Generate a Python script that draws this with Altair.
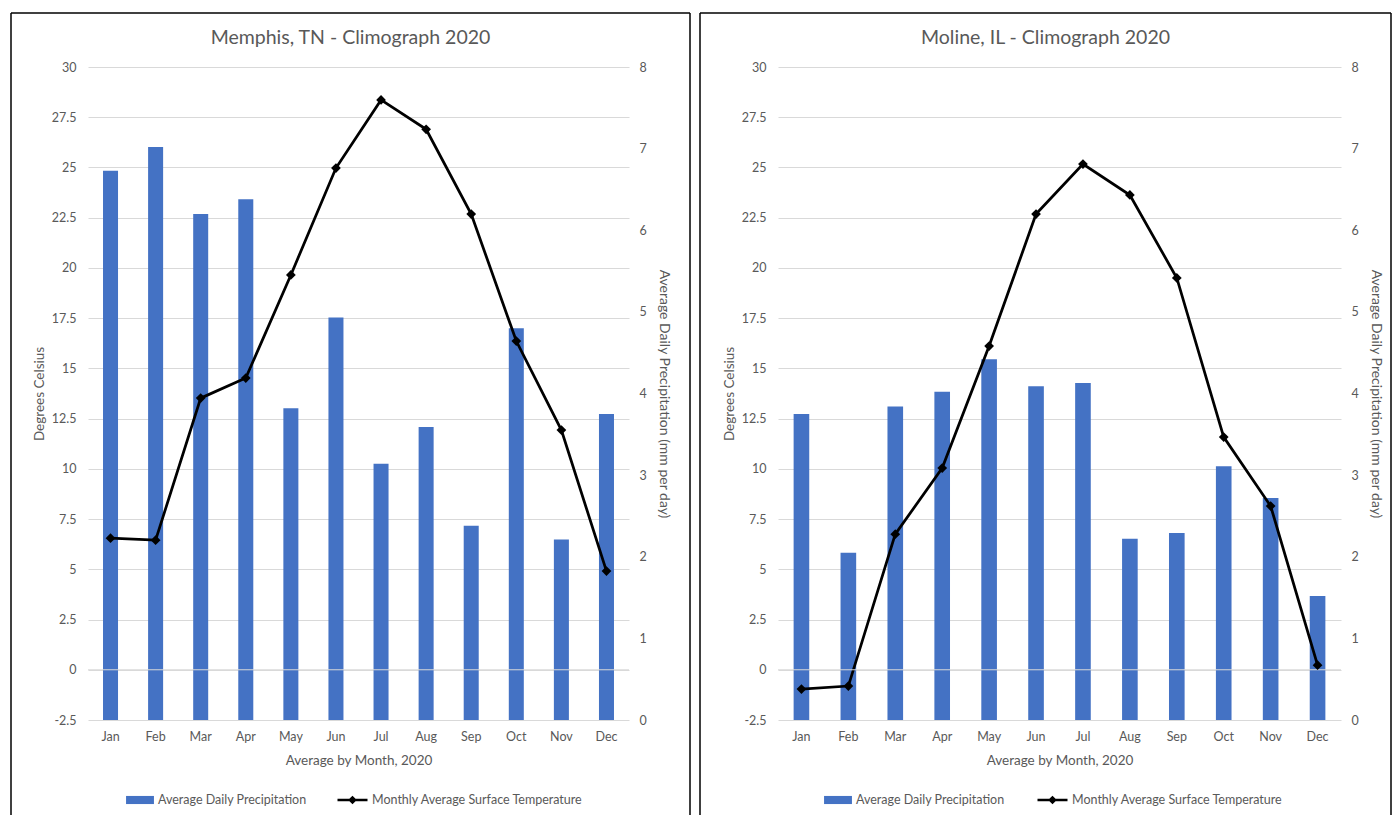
import altair as alt
import pandas as pd

months = ["Jan", "Feb", "Mar", "Apr", "May", "Jun", "Jul", "Aug", "Sep", "Oct", "Nov", "Dec"]

memphis_title = "Memphis, TN - Climograph 2020"
memphis_precip = [6.73, 7.02, 6.20, 6.38, 3.82, 4.93, 3.14, 3.59, 2.38, 4.80, 2.21, 3.75]
memphis_temp = [6.55, 6.45, 13.52, 14.52, 19.65, 24.97, 28.36, 26.9, 22.68, 16.36, 11.93, 4.91]

moline_title = "Moline, IL - Climograph 2020"
moline_precip = [3.75, 2.05, 3.84, 4.02, 4.42, 4.09, 4.13, 2.22, 2.29, 3.11, 2.72, 1.52]
moline_temp = [-0.96, -0.81, 6.75, 10.04, 16.11, 22.68, 25.17, 23.63, 19.5, 11.58, 8.15, 0.23]

temp_ticks = [-2.5, 0, 2.5, 5, 7.5, 10, 12.5, 15, 17.5, 20, 22.5, 25, 27.5, 30]
precip_ticks = [0, 1, 2, 3, 4, 5, 6, 7, 8]

precip_label = "Average Daily Precipitation"
temp_label = "Monthly Average Surface Temperature"

FONT = "Lato"
GRAY = "#595959"
GRID = "#D9D9D9"
BLUE = "#4472C4"
H = 653


def panel(title, temps, precs, width, fl, fr, lx_fill, lx_stroke):
    df = pd.DataFrame({"month": months, "temp": temps, "precip": precs,
                       "s1": precip_label, "s2": temp_label})
    xenc = alt.X("month:N", sort=months,
                 scale=alt.Scale(paddingInner=0.667, paddingOuter=0.333),
                 axis=alt.Axis(title="Average by Month, 2020", labelAngle=0, ticks=False,
                               domain=False, grid=False, labelPadding=10, titlePadding=11,
                               labelFontSize=12.5, titleFontSize=13.5))
    tscale = alt.Scale(domain=[-2.5, 30], nice=False, zero=False)
    pscale = alt.Scale(domain=[0, 8], nice=False)
    taxis = alt.Axis(orient="left", values=temp_ticks, grid=True, gridColor=GRID,
                     ticks=False, domain=False, labelPadding=12, titlePadding=5,
                     title="Degrees Celsius", labelExpr="'' + datum.value",
                     labelFontSize=12.5, titleFontSize=13.5)

    bars = alt.Chart(df).mark_bar().encode(
        x=xenc,
        y=alt.Y("precip:Q", scale=pscale,
                axis=alt.Axis(orient="right", values=precip_ticks, grid=False, ticks=False,
                              domain=False, labelPadding=10, titlePadding=10,
                              title="Average Daily Precipitation (mm per day)",
                              labelFontSize=12.5, titleFontSize=14)),
        fill=alt.Fill("s1:N", scale=alt.Scale(domain=[precip_label], range=[BLUE]),
                      legend=alt.Legend(orient="none", legendX=lx_fill, legendY=718,
                                        title=None,
                                        symbolType="M-0.93,-0.27L0.93,-0.27L0.93,0.27L-0.93,0.27Z",
                                        symbolSize=900, symbolStrokeWidth=0,
                                        labelFontSize=12.5, labelOffset=3, padding=0,
                                        labelLimit=400)),
    )

    line = alt.Chart(df).mark_line(strokeWidth=2.75).encode(
        x=alt.X("month:N", sort=months),
        y=alt.Y("temp:Q", scale=tscale, axis=taxis),
        stroke=alt.Stroke("s2:N", scale=alt.Scale(domain=[temp_label], range=["black"]),
                          legend=alt.Legend(orient="none", legendX=lx_stroke, legendY=716.5,
                                            title=None,
                                            symbolType="M-1,0L1,0M-0.17,0L0,-0.17L0.17,0L0,0.17Z",
                                            symbolSize=900, symbolStrokeWidth=2.5,
                                            symbolFillColor="black",
                                            labelFontSize=12.5, labelOffset=3, padding=0,
                                            labelLimit=400)),
    )

    zero = alt.Chart(pd.DataFrame({"temp": [0]})).mark_rule(color=GRID, strokeWidth=1).encode(
        y=alt.Y("temp:Q", scale=tscale, axis=taxis)
    )

    points = alt.Chart(df).mark_point(shape="diamond", filled=True, color="black",
                                      size=95, opacity=1).encode(
        x=alt.X("month:N", sort=months),
        y=alt.Y("temp:Q", scale=tscale, axis=taxis),
    )

    one = pd.DataFrame({"k": [0], "title": [title]})
    top, bottom = -54, 748
    frame_l = alt.Chart(one).mark_rule(color="black", strokeWidth=1.5).encode(
        x=alt.value(fl), y=alt.value(top), y2=alt.value(bottom))
    frame_r = alt.Chart(one).mark_rule(color="black", strokeWidth=1.5).encode(
        x=alt.value(fr), y=alt.value(top), y2=alt.value(bottom))
    frame_t = alt.Chart(one).mark_rule(color="black", strokeWidth=1.5).encode(
        x=alt.value(fl), x2=alt.value(fr), y=alt.value(top))
    ttl = alt.Chart(one).mark_text(font=FONT, fontSize=19.5, color=GRAY, align="center",
                                   baseline="middle").encode(
        text="title:N", x=alt.value((fl + fr) / 2), y=alt.value(-29))

    temp_layer = alt.layer(line, zero, points)
    return alt.layer(frame_l, frame_r, frame_t, ttl, bars, temp_layer).resolve_scale(
        y="independent").properties(width=width, height=H)


left = panel(memphis_title, memphis_temp, memphis_precip, 541, -77, 602, 37, 248)
right = panel(moline_title, moline_temp, moline_precip, 563, -78, 613, 45, 258)

chart = alt.hconcat(left, right, spacing=8).resolve_scale(
    x="independent", y="independent", fill="independent", stroke="independent"
).resolve_legend(fill="independent", stroke="independent").properties(
    padding={"left": 10, "top": 12, "right": 0, "bottom": 0},
    background="white",
).configure_view(stroke=None).configure_axis(
    labelFont=FONT, titleFont=FONT, labelColor=GRAY, titleColor=GRAY,
    titleFontWeight="normal",
).configure_legend(labelFont=FONT, labelColor=GRAY)

chart.save("out.html", embed_options={"renderer": "svg", "actions": False})
